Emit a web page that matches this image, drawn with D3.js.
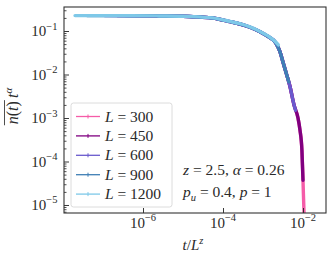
<!DOCTYPE html>
<html><head><meta charset="utf-8">
<script src="https://cdn.jsdelivr.net/npm/d3@7"></script>
<style>body{margin:0;background:#fff}svg{display:block}</style>
</head><body>
<svg id="c" width="332" height="261"></svg>
<script>
// ---- data ----
const labels = ["300", "450", "600", "900", "1200"];
const colors = ["#f55ca8", "#800080", "#6a5acd", "#3f7fb5", "#7ec8e8"];
const L300 = [[6.5e-7,0.226],[2.5e-6,0.222],[1.0e-5,0.219],[2.5e-5,0.210],[5.6e-5,0.199],[1.5e-4,0.164],[2.66e-4,0.145],[4.73e-4,0.122],[8.4e-4,0.096],[1.36e-3,0.074],[2.1e-3,0.053],[2.66e-3,0.0334],[3.22e-3,0.0181],[3.92e-3,0.0098],[4.73e-3,0.0053],[5.96e-3,0.002],[7.5e-3,1.0e-3],[8.4e-3,5.3e-4],[9.4e-3,1.8e-4],[1.0e-2,3.7e-5],[1.06e-2,6.6e-6],[1.12e-2,3e-6]];
const L450 = [[2.3e-7,0.226],[5.0e-7,0.225],[2.5e-6,0.222],[1.0e-5,0.219],[2.5e-5,0.210],[5.6e-5,0.199],[1.5e-4,0.164],[2.66e-4,0.145],[4.73e-4,0.122],[8.4e-4,0.096],[1.36e-3,0.074],[2.1e-3,0.053],[2.66e-3,0.0334],[3.22e-3,0.0181],[3.92e-3,0.0098],[4.73e-3,0.0053],[5.96e-3,0.002],[7.5e-3,1.0e-3],[8.4e-3,5.3e-4],[9.4e-3,1.8e-4],[1.0e-2,3.7e-5]];
const L600 = [[1.1e-7,0.226],[5.0e-7,0.225],[2.5e-6,0.222],[1.0e-5,0.219],[2.5e-5,0.210],[5.6e-5,0.199],[1.5e-4,0.164],[2.66e-4,0.145],[4.73e-4,0.122],[8.4e-4,0.096],[1.36e-3,0.074],[2.1e-3,0.053],[2.66e-3,0.0334],[3.22e-3,0.0181],[3.92e-3,0.0098],[4.73e-3,0.0053],[5.96e-3,0.002],[6.5e-3,1.5e-3]];
const L900 = [[4.0e-8,0.226],[1.0e-7,0.226],[5.0e-7,0.225],[2.5e-6,0.222],[1.0e-5,0.219],[2.5e-5,0.210],[5.6e-5,0.199],[1.5e-4,0.164],[2.66e-4,0.145],[4.73e-4,0.122],[8.4e-4,0.096],[1.36e-3,0.074],[2.1e-3,0.053],[2.66e-3,0.0334],[3.22e-3,0.0181],[3.92e-3,0.0098],[4.4e-3,0.0068]];
const L1200 = [[2.0e-8,0.226],[1.0e-7,0.226],[5.0e-7,0.225],[2.5e-6,0.222],[1.0e-5,0.219],[2.5e-5,0.211],[5.6e-5,0.200],[1.5e-4,0.166],[2.66e-4,0.147],[4.73e-4,0.124],[8.4e-4,0.098],[1.36e-3,0.076],[2.0e-3,0.058],[2.42e-3,0.048]];
const allSeries = [L300, L450, L600, L900, L1200];
const xTicks = [1e-6, 1e-4, 1e-2];
const xTickExp = ["\u22126", "\u22124", "\u22122"];
const yTicks = [1e-1, 1e-2, 1e-3, 1e-4, 1e-5];
const yTickExp = ["\u22121", "\u22122", "\u22123", "\u22124", "\u22125"];

// ---- layout ----
const svg = d3.select("#c");
const pL = 64, pR = 326, pT = 7, pB = 213;
const x = d3.scaleLog().domain([Math.pow(10,-7.975), Math.pow(10,-1.425)]).range([pL, pR]);
const y = d3.scaleLog().domain([Math.pow(10,-5.184), Math.pow(10,-0.448)]).range([pB, pT]);
const FONT = "'Liberation Serif', serif";
const TXT = "#2a2a2a";

svg.append("defs").append("clipPath").attr("id","clip")
  .append("rect").attr("x",pL).attr("y",pT).attr("width",pR-pL).attr("height",pB-pT);

// curves
const line = d3.line().x(d=>x(d[0])).y(d=>y(d[1])).curve(d3.curveMonotoneX);
const g = svg.append("g").attr("clip-path","url(#clip)");
allSeries.forEach((s,i)=>{
  g.append("path").datum(s).attr("d", line)
    .attr("fill","none").attr("stroke",colors[i]).attr("stroke-width", 3.4)
    .attr("stroke-linejoin","round").attr("stroke-linecap","round");
});

// axes (ticks inward)
const yMinor = [];
for (let e=-6;e<=0;e++) for (let k=2;k<=9;k++){ const v=k*Math.pow(10,e); if (v>y.domain()[0] && v<y.domain()[1]) yMinor.push(v); }
svg.append("g").attr("transform",`translate(${pL},0)`)
  .call(d3.axisRight(y).tickValues(yMinor).tickSize(2.5).tickFormat(""))
  .call(a=>a.select(".domain").remove())
  .selectAll("line").attr("stroke","#222").attr("stroke-width",0.8);
svg.append("g").attr("transform",`translate(${pL},0)`)
  .call(d3.axisRight(y).tickValues(yTicks).tickSize(5).tickFormat(""))
  .call(a=>a.select(".domain").remove())
  .selectAll("line").attr("stroke","#222").attr("stroke-width",0.9);
svg.append("g").attr("transform",`translate(0,${pB})`)
  .call(d3.axisTop(x).tickValues(xTicks).tickSize(5).tickFormat(""))
  .call(a=>a.select(".domain").remove())
  .selectAll("line").attr("stroke","#222").attr("stroke-width",0.9);

// frame
svg.append("rect").attr("x",pL).attr("y",pT).attr("width",pR-pL).attr("height",pB-pT)
  .attr("fill","none").attr("stroke","#333").attr("stroke-width",1.1);

// tick labels
function pow10(sel, exp){
  sel.append("tspan").text("10");
  sel.append("tspan").attr("dy",-6.5).attr("font-size",10.5).text(exp);
}
xTicks.forEach((v,i)=>{
  const t = svg.append("text").attr("x",x(v)).attr("y",227.5).attr("text-anchor","middle")
    .attr("font-family",FONT).attr("font-size",15).attr("fill",TXT);
  pow10(t, xTickExp[i]);
});
yTicks.forEach((v,i)=>{
  const t = svg.append("text").attr("x",57.5).attr("y",y(v)+5).attr("text-anchor","end")
    .attr("font-family",FONT).attr("font-size",15).attr("fill",TXT);
  pow10(t, yTickExp[i]);
});

// x label
const xl = svg.append("text").attr("x",193).attr("y",250).attr("text-anchor","middle")
  .attr("font-family",FONT).attr("font-size",15).attr("fill",TXT);
xl.append("tspan").attr("font-style","italic").text("t");
xl.append("tspan").text("/");
xl.append("tspan").attr("font-style","italic").text("L");
xl.append("tspan").attr("dy",-6).attr("font-size",10.5).attr("font-style","italic").text("z");

// y label (rotated)
const yg = svg.append("g").attr("transform","translate(18,106) rotate(-90)");
const yl = yg.append("text").attr("x",0).attr("y",0).attr("text-anchor","middle")
  .attr("font-family",FONT).attr("font-size",16).attr("fill",TXT);
yl.append("tspan").attr("font-style","italic").text("n");
yl.append("tspan").text("(");
yl.append("tspan").attr("font-style","italic").text("t");
yl.append("tspan").text(")");
yl.append("tspan").text("\u2009");
yl.append("tspan").attr("font-style","italic").text("t");
yl.append("tspan").attr("dy",-6.5).attr("font-size",11).attr("font-style","italic").text("\u03b1");
{
  const node = yl.node();
  const s = node.getStartPositionOfChar(0).x;
  const e = node.getEndPositionOfChar(3).x;
  yg.append("line").attr("x1",s-1).attr("x2",e+1).attr("y1",-13.5).attr("y2",-13.5)
    .attr("stroke","#222").attr("stroke-width",0.8);
}

// annotations
const a1 = svg.append("text").attr("x",183).attr("y",175)
  .attr("font-family",FONT).attr("font-size",15.5).attr("fill",TXT);
a1.append("tspan").attr("font-style","italic").text("z");
a1.append("tspan").text(" = 2.5, ");
a1.append("tspan").attr("font-style","italic").text("\u03b1");
a1.append("tspan").text(" = 0.26");
const a2 = svg.append("text").attr("x",183).attr("y",197)
  .attr("font-family",FONT).attr("font-size",15.5).attr("fill",TXT);
a2.append("tspan").attr("font-style","italic").text("p");
a2.append("tspan").attr("dy",3.5).attr("font-size",10.5).attr("font-style","italic").text("u");
a2.append("tspan").attr("dy",-3.5).text(" = 0.4, ");
a2.append("tspan").attr("font-style","italic").text("p");
a2.append("tspan").text(" = 1");

// legend
const lg = svg.append("g");
lg.append("rect").attr("x",71).attr("y",103).attr("width",101).attr("height",104).attr("rx",2.5)
  .attr("fill","#fff").attr("fill-opacity",0.85).attr("stroke","#d8d8d8").attr("stroke-width",0.9);
labels.forEach((lab,i)=>{
  const yy = 116.5 + i*19.4;
  lg.append("line").attr("x1",76).attr("x2",100).attr("y1",yy).attr("y2",yy)
    .attr("stroke",colors[i]).attr("stroke-width",1.3);
  lg.append("line").attr("x1",88).attr("x2",88).attr("y1",yy-2).attr("y2",yy+2)
    .attr("stroke",colors[i]).attr("stroke-width",1);
  const t = lg.append("text").attr("x",105).attr("y",yy+5)
    .attr("font-family",FONT).attr("font-size",15.5).attr("fill",TXT);
  t.append("tspan").attr("font-style","italic").text("L");
  t.append("tspan").text(" = " + lab);
});
</script>
</body></html>
